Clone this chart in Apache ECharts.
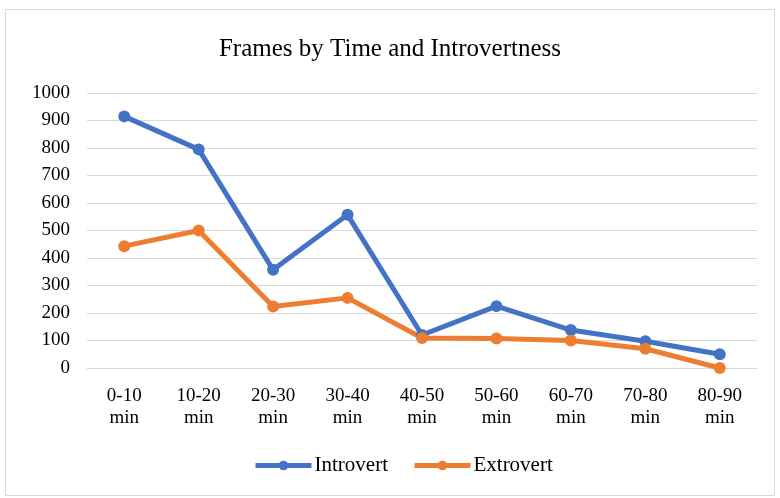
<!DOCTYPE html>
<html><head><meta charset="utf-8">
<script src="https://cdn.jsdelivr.net/npm/echarts@6/dist/echarts.min.js"></script>
<style>html,body{margin:0;padding:0;background:#fff}#c{width:780px;height:498px}</style>
</head><body><div id="c"></div>
<script>
const categories = ["0-10\nmin","10-20\nmin","20-30\nmin","30-40\nmin","40-50\nmin","50-60\nmin","60-70\nmin","70-80\nmin","80-90\nmin"];
const introvert = [915, 795, 357, 557, 120, 225, 138, 97, 50];
const extrovert = [443, 500, 224, 255, 109, 107, 100, 70, 0];
const yTicks = {min: 0, max: 1000, interval: 100};

const chart = echarts.init(document.getElementById('c'), null, {renderer: 'canvas'});
const font = '"Liberation Serif","Times New Roman",serif';
chart.setOption({
  animation: false,
  textStyle: {fontFamily: font},
  graphic: [{type: 'rect', shape: {x: 5.5, y: 9.5, width: 769, height: 486}, style: {fill: 'none', stroke: '#d9d9d9', lineWidth: 1}, silent: true, z: -1}],
  title: {text: 'Frames by Time and Introvertness', left: 'center', top: 32,
    textStyle: {fontFamily: font, fontWeight: 'normal', fontSize: 25, color: '#000'}},
  grid: {left: 87, right: 23, top: 93, bottom: 130, containLabel: false},
  legend: {bottom: 17, left: 248, itemWidth: 56, itemHeight: 12, itemGap: 24,
    textStyle: {fontFamily: font, fontSize: 21, color: '#000', padding: [0, 0, 0, -2]},
    lineStyle: {width: 5},
    data: ['Introvert', 'Extrovert']},
  xAxis: {type: 'category', data: categories, boundaryGap: true,
    axisLine: {lineStyle: {color: '#d9d9d9'}}, axisTick: {show: false},
    axisLabel: {fontFamily: font, fontSize: 19, color: '#000', lineHeight: 22, margin: 17, interval: 0}},
  yAxis: {type: 'value', min: yTicks.min, max: yTicks.max, interval: yTicks.interval,
    axisLine: {show: false}, axisTick: {show: false},
    splitLine: {lineStyle: {color: '#d9d9d9', width: 1}},
    axisLabel: {fontFamily: font, fontSize: 19, color: '#000', margin: 17, formatter: v => String(v)}},
  series: [
    {name: 'Introvert', type: 'line', data: introvert, symbol: 'circle', symbolSize: 12,
      lineStyle: {width: 5, color: '#4472c4'}, itemStyle: {color: '#4472c4'}},
    {name: 'Extrovert', type: 'line', data: extrovert, symbol: 'circle', symbolSize: 12,
      lineStyle: {width: 5, color: '#ed7d31'}, itemStyle: {color: '#ed7d31'}}
  ]
});
</script></body></html>
